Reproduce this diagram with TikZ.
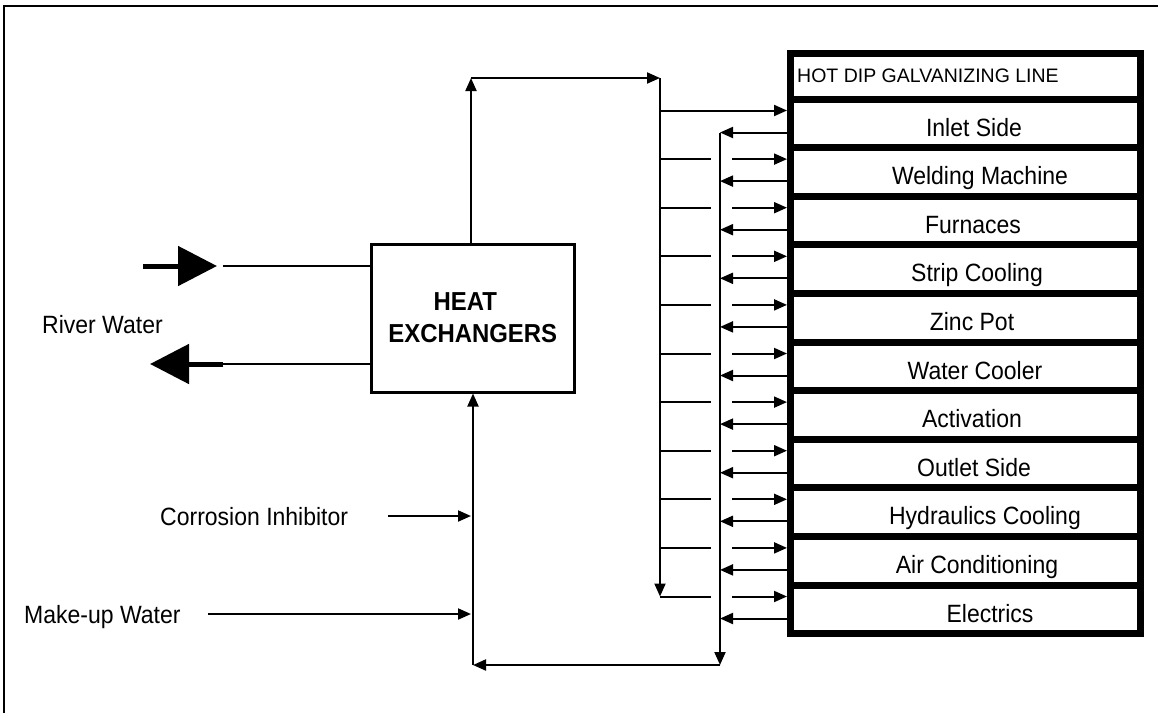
\documentclass[tikz,border=0pt]{standalone}
\usepackage{fontspec}
\setmainfont{Liberation Sans}
\newfontfamily\labfont[FakeStretch=0.92]{Liberation Sans}
\usetikzlibrary{arrows.meta,calc}
\tikzset{
  thin line/.style={line width=2pt},
  arr/.style={thin line,-{Triangle[length=13pt,width=11pt]}},
  bigarr/.style={line width=5pt,-{Triangle[length=39pt,width=39pt]}},
  rowbox/.style={draw,line width=7pt,inner sep=0pt,outer sep=0pt,minimum width=349.5pt,anchor=north west},
  lab/.style={font=\labfont\fontsize{25}{30}\selectfont,inner sep=0pt},
  hxbox/.style={draw,line width=3pt,inner sep=0pt,minimum width=202.5pt,minimum height=148pt,align=center,
    font=\labfont\bfseries\fontsize{26}{32}\selectfont},
}
\begin{document}
\begin{tikzpicture}[x=1pt,y=-1pt]
\useasboundingbox (0,0) rectangle (1158,713);
% frame
\draw[line width=2pt] (4,713) -- (4,6) -- (1158,6);

% heat exchanger
\node[hxbox] (hx) at (472.75,318) {HEAT\hspace*{15pt}\\EXCHANGERS};

% galvanizing line boxes
\node[rowbox,minimum height=45.5pt] (r0) at (790.5,53.5) {};
\node[anchor=base west,inner sep=0pt,font=\fontsize{19.5}{23}\selectfont] (t0) at (797,82) {HOT DIP GALVANIZING LINE};
\foreach \i/\txt/\xc in {1/Inlet Side/974,2/Welding Machine/980,3/Furnaces/973,4/Strip Cooling/977,
  5/Zinc Pot/972,6/Water Cooler/975,7/Activation/972,8/Outlet Side/974,9/Hydraulics Cooling/985,
  10/Air Conditioning/977,11/Electrics/990}{
  \pgfmathsetmacro{\top}{99+48.6*(\i-1)}
  \node[rowbox,minimum height=48.6pt] (r\i) at (790.5,\top) {};
  \node[lab,anchor=base] (t\i) at (\xc,\top+37) {\txt};
  % return arrow
  \coordinate (ret\i) at (720,\top+33.5);
  \draw[arr] ($(r\i.north west)+(-3.5,33.5)$) -- (ret\i);
  % supply branch
  \coordinate (sup\i) at (660,\top+11.5);
  \ifnum\i=1
    \draw[arr] (sup\i) -- ($(r\i.north west)+(-3.5,11.5)$);
  \else
    \draw[thin line] (sup\i) -- (711,\top+11.5);
    \draw[arr] (732,\top+11.5) -- ($(r\i.north west)+(-3.5,11.5)$);
  \fi
}

% supply header
\coordinate (c1) at (471,78);
\coordinate (c2) at (660,78);
\draw[arr] (hx.north -| c1) -- (c1);
\draw[arr] (c1) -- (c2);
\draw[arr] (c2) -- (sup11);

% return header
\coordinate (c3) at (720,665);
\coordinate (c4) at (473,665);
\draw[arr] (ret1) -- (c3);
\draw[arr] (c3) -- (c4);
\draw[arr] (c4) -- (hx.south -| c4);

% river water
\coordinate (ri1) at (143,266);
\coordinate (ri2) at (217,266);
\coordinate (ri3) at (223,266);
\draw[bigarr] (ri1) -- (ri2);
\draw[thin line] (ri3) -- (hx.west |- ri3);
\coordinate (ro1) at (223,364);
\coordinate (ro2) at (150,364);
\draw[thin line] (hx.west |- ro1) -- (ro1);
\draw[bigarr] (ro1) -- (ro2);
\node[lab,anchor=base west] (rw) at (42,333) {River Water};

% chemicals
\node[lab,anchor=base west] (ci) at (160,525) {Corrosion Inhibitor};
\coordinate (ci1) at (388,516);
\draw[arr] (ci1) -- (471,516);
\node[lab,anchor=base west] (mw) at (24,623) {Make-up Water};
\coordinate (mw1) at (208,614);
\draw[arr] (mw1) -- (471,614);
\end{tikzpicture}
\end{document}
